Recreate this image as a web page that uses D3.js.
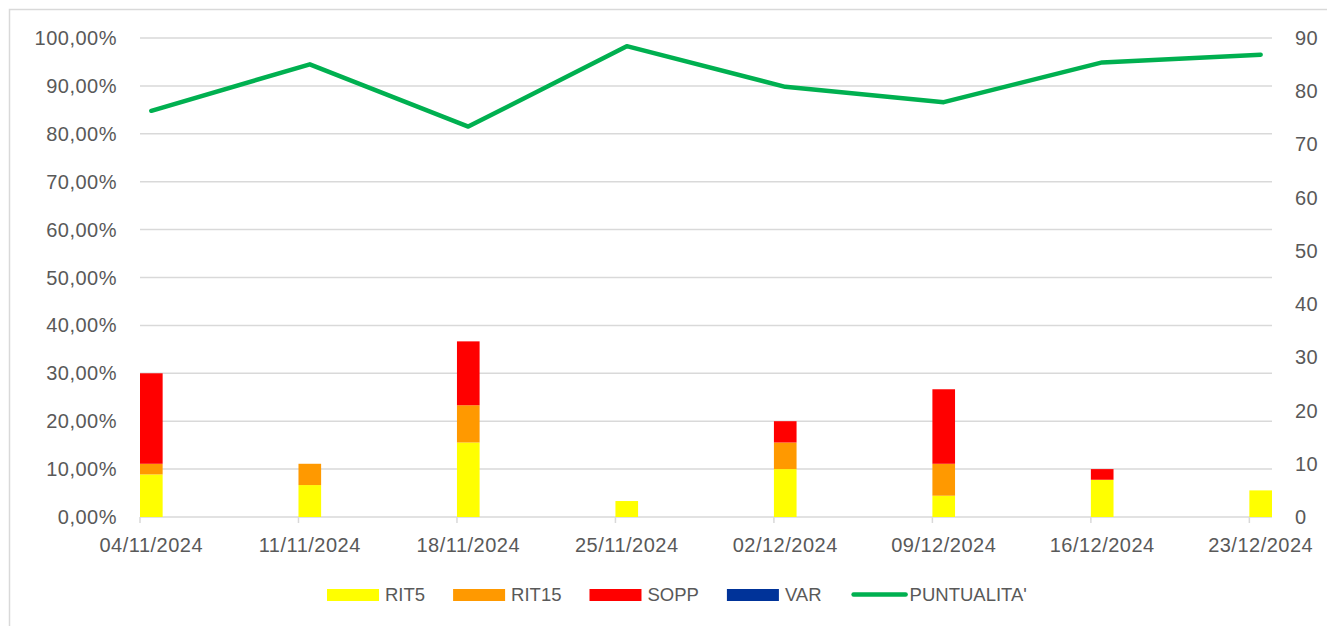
<!DOCTYPE html>
<html>
<head>
<meta charset="utf-8">
<script src="https://cdn.jsdelivr.net/npm/d3@7"></script>
<style>
  body { margin: 0; background: #fff; }
  svg { display: block; font-family: "Liberation Sans", Arial, sans-serif; }
</style>
</head>
<body>
<svg width="1327" height="626"></svg>
<script>
// weeks (start dates)
const dates = ['2024-11-04', '2024-11-11', '2024-11-18', '2024-11-25',
               '2024-12-02', '2024-12-09', '2024-12-16', '2024-12-23'];
const rit5  = [8, 6, 14, 3, 9, 4, 7, 5];
const rit15 = [2, 4, 7, 0, 5, 6, 0, 0];
const sopp  = [17, 0, 12, 0, 4, 14, 2, 0];
const vari  = [0, 0, 0, 0, 0, 0, 0, 0];
const puntualita = [0.848, 0.945, 0.815, 0.983, 0.898, 0.866, 0.949, 0.965];
const pctTicks = [0, 0.1, 0.2, 0.3, 0.4, 0.5, 0.6, 0.7, 0.8, 0.9, 1];
const cntTicks = [0, 10, 20, 30, 40, 50, 60, 70, 80, 90];

const seriesKeys = ['RIT5', 'RIT15', 'SOPP', 'VAR'];
const colors = { RIT5: '#ffff00', RIT15: '#ff9900', SOPP: '#ff0000', VAR: '#003399', "PUNTUALITA'": '#00b050' };

const parse = d3.timeParse('%Y-%m-%d');
const fmtDate = d3.timeFormat('%d/%m/%Y');
const rows = dates.map((d, i) => ({
  date: parse(d), RIT5: rit5[i], RIT15: rit15[i], SOPP: sopp[i], VAR: vari[i], p: puntualita[i]
}));

const svg = d3.select('svg');
const textColor = '#595959';
const gridColor = '#d9d9d9';
const axisFont = 20;

// chart frame
svg.append('rect')
  .attr('x', 9.5).attr('y', 9.5)
  .attr('width', 1340).attr('height', 640)
  .attr('fill', 'none').attr('stroke', gridColor).attr('stroke-width', 1.5);

const x = d3.scaleTime()
  .domain([rows[0].date, d3.timeDay.offset(rows[rows.length - 1].date, 1)])
  .range([140, 1272]);
const yPct = d3.scaleLinear().domain([0, 1]).range([517, 38]);
const yCnt = d3.scaleLinear().domain([0, 90]).range([517, 38]);
const mid = d => d3.timeHour.offset(d, 12);

// gridlines
svg.append('g')
  .selectAll('line')
  .data(pctTicks)
  .enter()
    .append('line')
    .attr('x1', 140).attr('x2', 1272)
    .attr('y1', d => yPct(d)).attr('y2', d => yPct(d))
    .attr('stroke', gridColor).attr('stroke-width', 1.5);

// x tick marks
svg.append('g')
  .selectAll('line')
  .data(rows)
  .enter()
    .append('line')
    .attr('x1', d => x(d.date)).attr('x2', d => x(d.date))
    .attr('y1', 517).attr('y2', 523)
    .attr('stroke', gridColor).attr('stroke-width', 1.5);

// left axis labels
svg.append('g')
  .selectAll('text')
  .data(pctTicks)
  .enter()
    .append('text')
    .attr('x', 117).attr('y', d => yPct(d))
    .attr('dy', '0.35em')
    .attr('text-anchor', 'end')
    .attr('font-size', axisFont)
    .attr('letter-spacing', 0.5)
    .attr('fill', textColor)
    .text(d => d3.format('.2f')(d * 100).replace('.', ',') + '%');

// right axis labels
svg.append('g')
  .selectAll('text')
  .data(cntTicks)
  .enter()
    .append('text')
    .attr('x', 1295).attr('y', d => yCnt(d))
    .attr('dy', '0.35em')
    .attr('font-size', axisFont)
    .attr('letter-spacing', 0.5)
    .attr('fill', textColor)
    .text(d => d);

// date labels
svg.append('g')
  .selectAll('text')
  .data(rows)
  .enter()
    .append('text')
    .attr('x', d => x(mid(d.date))).attr('y', 545)
    .attr('dy', '0.35em')
    .attr('text-anchor', 'middle')
    .attr('font-size', axisFont)
    .attr('letter-spacing', 0.5)
    .attr('fill', textColor)
    .text(d => fmtDate(d.date));

// stacked bars
const stacked = d3.stack().keys(seriesKeys)(rows);
svg.append('g')
  .selectAll('g')
  .data(stacked)
  .enter()
    .append('g')
    .attr('fill', s => colors[s.key])
    .selectAll('rect')
    .data(s => s.filter(d => d[1] > d[0]))
    .enter()
      .append('rect')
      .attr('x', d => x(d.data.date))
      .attr('width', d => x(d3.timeDay.offset(d.data.date, 1)) - x(d.data.date))
      .attr('y', d => yCnt(d[1]))
      .attr('height', d => yCnt(d[0]) - yCnt(d[1]));

// puntualita line
const line = d3.line()
  .x(d => x(mid(d.date)))
  .y(d => yPct(d.p));
svg.append('path')
  .datum(rows)
  .attr('d', line)
  .attr('fill', 'none')
  .attr('stroke', colors["PUNTUALITA'"])
  .attr('stroke-width', 4.5)
  .attr('stroke-linejoin', 'round')
  .attr('stroke-linecap', 'round');

// legend
const legendItems = seriesKeys.concat(["PUNTUALITA'"]);
const legend = svg.append('g');
let lx = 327;
legendItems.forEach(k => {
  if (k === "PUNTUALITA'") {
    lx += 2;
    legend.append('line')
      .attr('x1', lx + 2).attr('x2', lx + 54)
      .attr('y1', 594.5).attr('y2', 594.5)
      .attr('stroke', colors[k]).attr('stroke-width', 4.5)
      .attr('stroke-linecap', 'round');
  } else {
    legend.append('rect')
      .attr('x', lx).attr('y', 589)
      .attr('width', 52).attr('height', 12)
      .attr('fill', colors[k]);
  }
  const t = legend.append('text')
    .attr('x', lx + 58).attr('y', 595)
    .attr('dy', '0.35em')
    .attr('font-size', 18.5)
    .attr('fill', textColor)
    .text(k);
  lx += 58 + t.node().getComputedTextLength() + 28;
});
</script>
</body>
</html>
